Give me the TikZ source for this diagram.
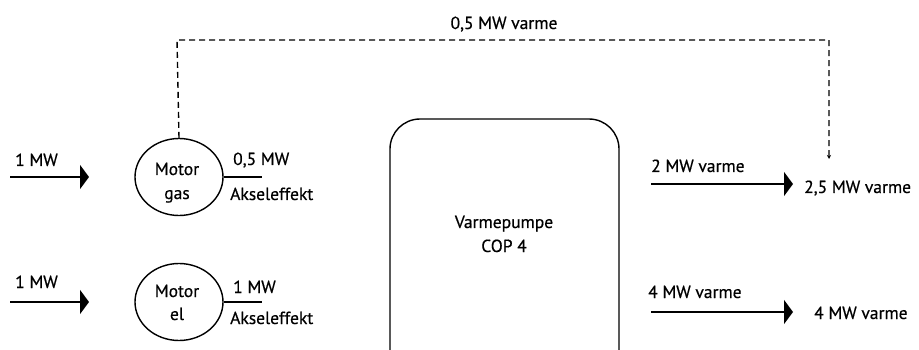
\documentclass[tikz,border=0pt]{standalone}
\usepackage{fontspec}
\setmainfont{PT Sans}[FakeBold=0.5]
\usetikzlibrary{arrows.meta,shapes.geometric}
\begin{document}
\begin{tikzpicture}[x=1pt,y=-1pt,
  lbl/.style={inner sep=0pt,anchor=base west,font=\fontsize{17.5}{21}\selectfont},
  clbl/.style={inner sep=0pt,anchor=base,font=\fontsize{17.5}{21}\selectfont},
  motor/.style={draw,line width=1.4pt,ellipse,minimum width=88pt,minimum height=77pt,inner sep=0pt},
  flow/.style={line width=1.7pt,-{Triangle[length=9pt,width=24pt]}},
  shaft/.style={line width=1.5pt},
  heat/.style={line width=1.4pt,dash pattern=on 6pt off 4pt,-{Stealth[length=4pt,width=4pt]}}]
\useasboundingbox (0,0) rectangle (919,350);
% inputs
\coordinate (in1s) at (10,177);
\coordinate (in1e) at (89,177);
\coordinate (in2s) at (10,302);
\coordinate (in2e) at (89,302);
\draw[flow] (in1s) -- (in1e);
\draw[flow] (in2s) -- (in2e);
\node[lbl] (l1) at (15,166) {1 MW};
\node[lbl] (l2) at (15,288) {1 MW};
% motors
\node[motor] (mg) at (179,177) {};
\node[motor] (me) at (179,302) {};
\node[clbl] (mg1) at (177,175) {Motor};
\node[clbl] (mg2) at (177,199) {gas};
\node[clbl] (me1) at (177,297) {Motor};
\node[clbl] (me2) at (177,320) {el};
\coordinate (sg) at (262,177);
\coordinate (se) at (262,302);
\draw[shaft] (mg.east) -- (sg);
\draw[shaft] (me.east) -- (se);
\node[lbl] (ag1) at (233,165) {0,5 MW};
\node[lbl] (ag2) at (230,200) {Akseleffekt};
\node[lbl] (ae1) at (233,293) {1 MW};
\node[lbl] (ae2) at (230,324) {Akseleffekt};
% heat pump
\draw[line width=1.4pt,rounded corners=30pt] (390,400) -- (390,119) -- (619,119) -- (619,400);
\node[clbl] (vp1) at (504,228) {Varmepumpe};
\node[clbl] (vp2) at (504,252) {COP 4};
% outputs
\coordinate (o1s) at (651,184);
\coordinate (o1e) at (793,184);
\coordinate (o2s) at (651,312);
\coordinate (o2e) at (793,312);
\draw[flow] (o1s) -- (o1e);
\draw[flow] (o2s) -- (o2e);
\node[lbl] (h1) at (651,172) {2 MW varme};
\node[lbl] (h2) at (648,298) {4 MW varme};
\node[lbl] (r1) at (804,193) {2,5 MW varme};
\node[lbl] (r2) at (814,319) {4 MW varme};
% dashed heat recovery
\coordinate (d1) at (177,40);
\coordinate (d2) at (829,40);
\coordinate (d3) at (829,159);
\draw[heat] (mg.north) -- (d1) -- (d2) -- (d3);
\node[clbl] (dl) at (504,29) {0,5 MW varme};
\end{tikzpicture}
\end{document}
